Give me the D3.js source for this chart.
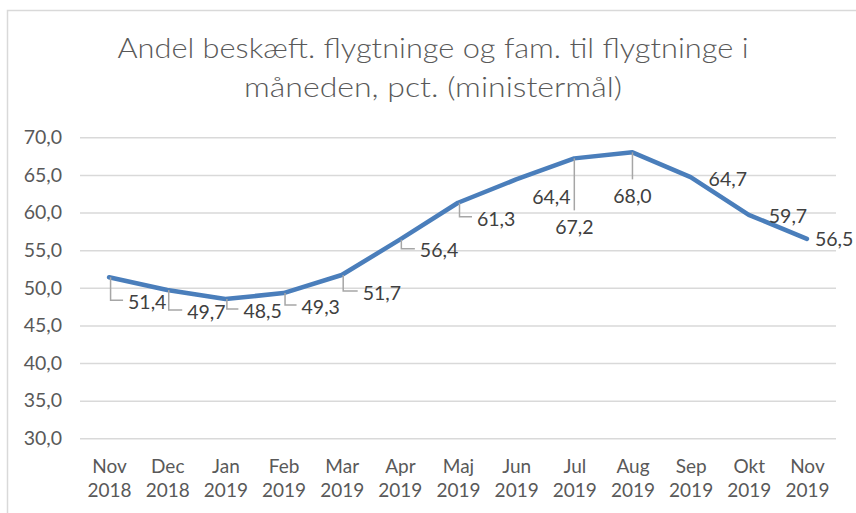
<!DOCTYPE html>
<html>
<head>
<meta charset="utf-8">
<script src="https://cdn.jsdelivr.net/npm/d3@7"></script>
<style>
  body { margin: 0; background: #ffffff; }
  text { font-family: Lato, "Open Sans", sans-serif; }
</style>
</head>
<body>
<div id="chart"></div>
<script>
// data
let months = ["Nov", "Dec", "Jan", "Feb", "Mar", "Apr", "Maj", "Jun", "Jul", "Aug", "Sep", "Okt", "Nov"];
let years = ["2018", "2018", "2019", "2019", "2019", "2019", "2019", "2019", "2019", "2019", "2019", "2019", "2019"];
let shares = [51.4, 49.7, 48.5, 49.3, 51.7, 56.4, 61.3, 64.4, 67.2, 68.0, 64.7, 59.7, 56.5];
let yTicks = [30, 35, 40, 45, 50, 55, 60, 65, 70];
let titleLines = ["Andel beskæft. flygtninge og fam. til flygtninge i", "måneden, pct. (ministermål)"];

// where excel put each data label, relative to its point (layout only)
let labelPos = [
    { anchor: "start", dx: 19, dy: 25, leader: true },
    { anchor: "start", dx: 20, dy: 22, leader: true },
    { anchor: "start", dx: 18, dy: 12, leader: true },
    { anchor: "start", dx: 18, dy: 14, leader: true },
    { anchor: "start", dx: 21, dy: 18, leader: true },
    { anchor: "start", dx: 20, dy: 11, leader: true },
    { anchor: "start", dx: 19, dy: 16, leader: true },
    { anchor: "start", dx: 16, dy: 18, leader: false },
    { anchor: "middle", dx: 0, dy: 69, leader: true },
    { anchor: "middle", dx: 0, dy: 44, leader: true },
    { anchor: "start", dx: 18, dy: 2, leader: false },
    { anchor: "start", dx: 20, dy: 1, leader: false },
    { anchor: "start", dx: 8, dy: 0, leader: false }
];

let width = 856, height = 513;
let plot = { left: 80, right: 836, top: 137.3, bottom: 438.3 };

let fmt = function (v) { return v.toFixed(1).replace(".", ","); };

let svg = d3.select("#chart")
    .append("svg")
    .attr("width", width)
    .attr("height", height);

// chart frame
svg.append("rect")
    .attr("x", 7.5)
    .attr("y", 10.5)
    .attr("width", 880)
    .attr("height", 540)
    .attr("fill", "#ffffff")
    .attr("stroke", "#d9d9d9")
    .attr("stroke-width", 1.5);

// title
svg.selectAll(".title")
    .data(titleLines)
    .enter()
    .append("text")
    .attr("class", "title")
    .attr("x", 433)
    .attr("y", function (d, i) { return 58 + i * 39; })
    .attr("text-anchor", "middle")
    .attr("textLength", function (d, i) { return i == 0 ? 631 : 378; })
    .attr("lengthAdjust", "spacingAndGlyphs")
    .style("font-size", "27px")
    .style("font-weight", 300)
    .style("fill", "#595959")
    .text(function (d) { return d; });

let x = d3.scalePoint()
    .domain(d3.range(shares.length))
    .range([plot.left, plot.right])
    .padding(0.5);

let y = d3.scaleLinear()
    .domain([30, 70])
    .range([plot.bottom, plot.top]);

// y axis: gridlines + labels
let yAxis = d3.axisLeft(y)
    .tickValues(yTicks)
    .tickSize(-(plot.right - plot.left))
    .tickPadding(18)
    .tickFormat(fmt);

let gy = svg.append("g")
    .attr("transform", "translate(" + plot.left + ",0)")
    .call(yAxis);
gy.select(".domain").remove();
gy.selectAll(".tick line")
    .attr("stroke", "#d9d9d9")
    .attr("stroke-width", 1.5);
gy.selectAll(".tick text")
    .attr("fill", "#595959")
    .style("font-size", "19.5px")
    .style("font-family", "Lato, sans-serif");

// x axis: two line month labels
let xAxis = d3.axisBottom(x)
    .tickSize(0)
    .tickFormat("");

let gx = svg.append("g")
    .attr("transform", "translate(0," + plot.bottom + ")")
    .call(xAxis);
gx.select(".domain").remove();

let xt = gx.selectAll(".tick")
    .append("text")
    .attr("text-anchor", "middle")
    .attr("fill", "#595959")
    .style("font-size", "19px")
    .style("font-family", "Lato, sans-serif");
xt.append("tspan")
    .attr("x", 0)
    .attr("y", 34.5)
    .text(function (d) { return months[d]; });
xt.append("tspan")
    .attr("x", 0)
    .attr("y", 58.5)
    .text(function (d) { return years[d]; });

// the line
let line = d3.line()
    .x(function (d, i) { return x(i); })
    .y(function (d) { return y(d); });

svg.append("path")
    .datum(shares)
    .attr("d", line)
    .attr("fill", "none")
    .attr("stroke", "#4a7ebb")
    .attr("stroke-width", 4.5)
    .attr("stroke-linejoin", "round")
    .attr("stroke-linecap", "round");

// leader lines
svg.selectAll(".leader")
    .data(shares)
    .enter()
    .filter(function (d, i) { return labelPos[i].leader; })
    .append("path")
    .attr("class", "leader")
    .attr("fill", "none")
    .attr("stroke", "#a6a6a6")
    .attr("stroke-width", 1.5)
    .attr("d", function (d) {
        let i = shares.indexOf(d);
        let p = labelPos[i];
        let px = x(i), py = y(d);
        if (p.anchor == "middle") {
            return "M" + px + "," + py + "V" + (py + p.dy - 17);
        }
        let ly = py + p.dy - 2;
        return "M" + (px + 1.5) + "," + py + "V" + ly + "H" + (px + p.dx - 5);
    });

// data labels
svg.selectAll(".dlabel")
    .data(shares)
    .enter()
    .append("text")
    .attr("class", "dlabel")
    .attr("x", function (d, i) { return x(i) + labelPos[i].dx; })
    .attr("y", function (d, i) { return y(d) + labelPos[i].dy; })
    .attr("dy", "0.35em")
    .attr("text-anchor", function (d, i) { return labelPos[i].anchor; })
    .style("font-size", "19.5px")
    .style("fill", "#404040")
    .text(fmt);
</script>
</body>
</html>
